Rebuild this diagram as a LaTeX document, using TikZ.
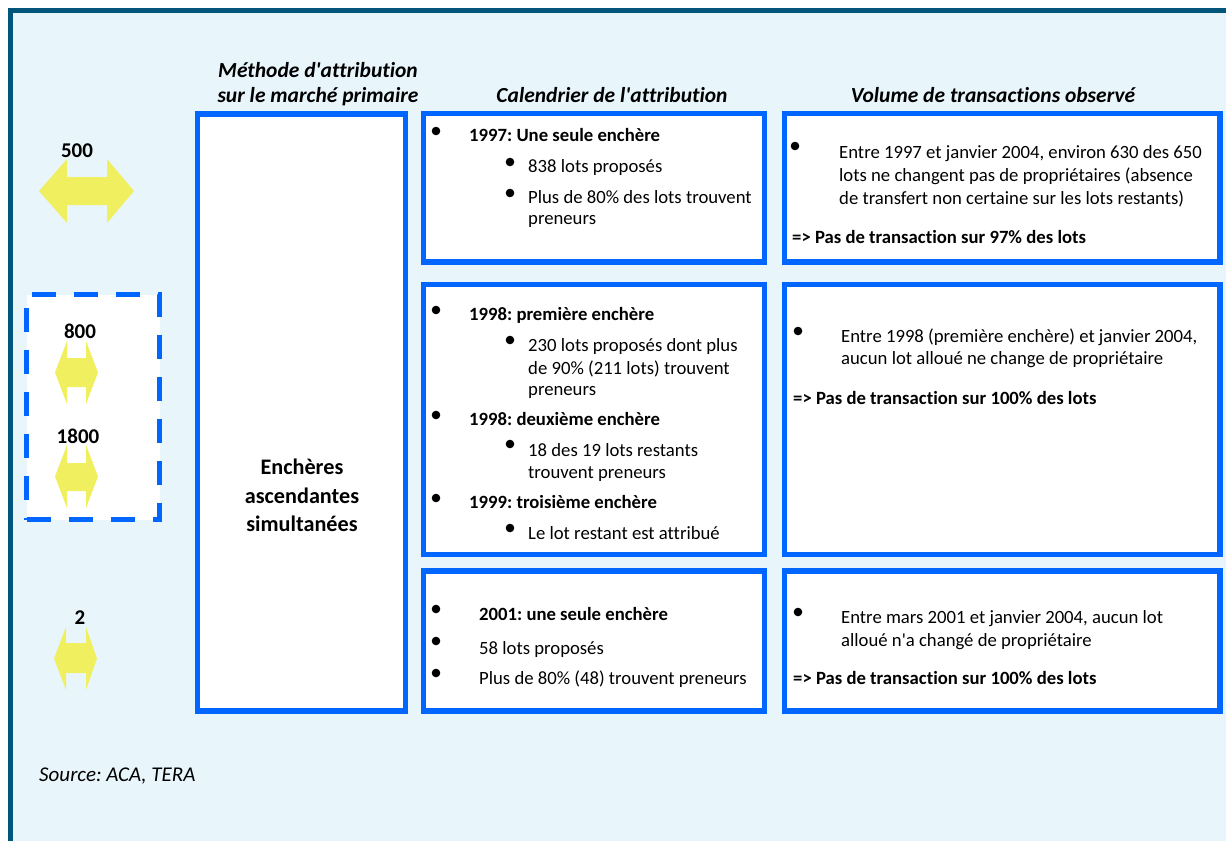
\documentclass[tikz,border=0pt]{standalone}
\usepackage{fontspec}
\setmainfont{Carlito}[Ligatures={NoCommon}]
\frenchspacing
\definecolor{pagebg}{HTML}{E8F6FC}
\definecolor{frameteal}{HTML}{00567A}
\definecolor{boxblue}{HTML}{0066FF}
\definecolor{arrowyellow}{HTML}{EFEF5F}
\begin{document}
\begin{tikzpicture}[x=1pt,y=-1pt,
  panel/.style={draw=boxblue, line width=5.5pt, fill=white, inner sep=0pt},
  dashpanel/.style={draw=boxblue, line width=5pt, fill=white, inner sep=0pt, dash pattern=on 24pt off 18pt},
  txt/.style={inner sep=0pt, yshift=-4pt},
  body/.style={txt, font=\fontsize{18.7}{22}\selectfont, anchor=mid west},
  bodyb/.style={body, font=\fontsize{18.7}{22}\selectfont\bfseries},
  head/.style={txt, font=\fontsize{21.5}{25}\selectfont\bfseries\itshape, anchor=mid},
  lbl/.style={txt, font=\fontsize{21}{25}\selectfont\bfseries, anchor=mid},
  big/.style={txt, font=\fontsize{22.2}{26}\selectfont\bfseries, anchor=mid},
  src/.style={txt, font=\fontsize{21}{25}\selectfont\itshape, anchor=mid west},
  widearrow/.style={fill=arrowyellow},
  dot/.style={fill=black}]

\useasboundingbox (0,0) rectangle (1226,841);
% page background and frame
\fill[pagebg] (10,10) rectangle (1226,841);
\draw[frameteal, line width=5pt] (10,841) -- (10,10) -- (1226,10);

% column headings
\node[head] (h1a) at (318,71) {Méthode d\textquotesingle attribution};
\node[head] (h1b) at (318,96) {sur le marché primaire};
\node[head] (h2) at (612,96) {Calendrier de l\textquotesingle attribution};
\node[head] (h3) at (993,96) {Volume de transactions observé};

% panels
\node[panel, minimum width=208pt, minimum height=597pt] (meth) at (301.5,412.5) {};
\node[panel, minimum width=341pt, minimum height=148.5pt] (cal1) at (594,187.75) {};
\node[panel, minimum width=341pt, minimum height=270pt] (cal2) at (594,419.5) {};
\node[panel, minimum width=341pt, minimum height=140pt] (cal3) at (594,641) {};
\node[panel, minimum width=435.5pt, minimum height=148.5pt] (vol1) at (1002.25,187.75) {};
\node[panel, minimum width=435.5pt, minimum height=270pt] (vol2) at (1002.25,419.5) {};
\node[panel, minimum width=435.5pt, minimum height=140pt] (vol3) at (1002.25,641) {};
\node[dashpanel, minimum width=133pt, minimum height=225pt] (grp) at (93,407) {};

% method
\node[big] (m1) at (302,468) {Enchères};
\node[big] (m2) at (302,497) {ascendantes};
\node[big] (m3) at (302,525) {simultanées};

% double arrows with their bandwidth labels
\fill[widearrow] (39,191) -- (67,159) -- (67,177) -- (107,177) -- (107,159) -- (134,191)
  -- (107,223) -- (107,205) -- (67,205) -- (67,223) -- cycle;
\node[lbl] (l500) at (77,151) {500};
\fill[widearrow] (55,372.5) -- (67,341) -- (67,358) -- (86,358) -- (86,341) -- (98,372.5)
  -- (86,404) -- (86,387) -- (67,387) -- (67,404) -- cycle;
\node[lbl] (l800) at (80,332) {800};
\fill[widearrow] (55,476.5) -- (67,445) -- (67,463) -- (86,463) -- (86,445) -- (98,476.5)
  -- (86,508) -- (86,491) -- (67,491) -- (67,508) -- cycle;
\node[lbl] (l1800) at (78,437) {1800};
\fill[widearrow] (54,658.5) -- (66,627) -- (66,643) -- (86,643) -- (86,627) -- (97,658.5)
  -- (86,690) -- (86,673) -- (66,673) -- (66,690) -- cycle;
\node[lbl] (l2) at (80,618) {2};

% calendar, first row
\fill[dot] (436,131) circle (4.3pt);
\fill[dot] (510,162) circle (4.3pt);
\fill[dot] (510,193) circle (4.3pt);
\node[bodyb] (c1a) at (469,135) {1997: Une seule enchère};
\node[body] (c1b) at (528,166) {838 lots proposés};
\node[body] (c1c) at (528,197) {Plus de 80\% des lots trouvent};
\node[body] (c1d) at (528,218) {preneurs};

% calendar, second row
\fill[dot] (436,310) circle (4.3pt);
\fill[dot] (510,340) circle (4.3pt);
\fill[dot] (436,415) circle (4.3pt);
\fill[dot] (510,444) circle (4.3pt);
\fill[dot] (436,498) circle (4.3pt);
\fill[dot] (510,528) circle (4.3pt);
\node[bodyb] (c2a) at (469,314) {1998: première enchère};
\node[body] (c2b) at (528,345) {230 lots proposés dont plus};
\node[body] (c2c) at (528,368) {de 90\% (211 lots) trouvent};
\node[body] (c2d) at (528,389) {preneurs};
\node[bodyb] (c2e) at (469,419) {1998: deuxième enchère};
\node[body] (c2f) at (528,450) {18 des 19 lots restants};
\node[body] (c2g) at (528,472) {trouvent preneurs};
\node[bodyb] (c2h) at (469,502) {1999: troisième enchère};
\node[body] (c2i) at (528,533) {Le lot restant est attribué};

% calendar, third row
\fill[dot] (436,609) circle (4.3pt);
\fill[dot] (436,641) circle (4.3pt);
\fill[dot] (436,673) circle (4.3pt);
\node[bodyb] (c3a) at (479,614) {2001: une seule enchère};
\node[body] (c3b) at (479,648) {58 lots proposés};
\node[body] (c3c) at (479,678) {Plus de 80\% (48) trouvent preneurs};

% observed volume
\fill[dot] (795,146) circle (4.3pt);
\node[body] (v1a) at (839,152) {Entre 1997 et janvier 2004, environ 630 des 650};
\node[body] (v1b) at (839,175) {lots ne changent pas de propriétaires (absence};
\node[body] (v1c) at (839,198) {de transfert non certaine sur les lots restants)};
\node[bodyb] (v1d) at (792,237) {=> Pas de transaction sur 97\% des lots};

\fill[dot] (798,331) circle (4.3pt);
\node[body] (v2a) at (841,336) {Entre 1998 (première enchère) et janvier 2004,};
\node[body] (v2b) at (841,358) {aucun lot alloué ne change de propriétaire};
\node[bodyb] (v2c) at (793,398) {=> Pas de transaction sur 100\% des lots};

\fill[dot] (798,612) circle (4.3pt);
\node[body] (v3a) at (841,617) {Entre mars 2001 et janvier 2004, aucun lot};
\node[body] (v3b) at (841,640) {alloué n\textquotesingle a changé de propriétaire};
\node[bodyb] (v3c) at (793,678) {=> Pas de transaction sur 100\% des lots};

% source
\node[src] (srcline) at (39,775) {Source: ACA, TERA};
\end{tikzpicture}
\end{document}
